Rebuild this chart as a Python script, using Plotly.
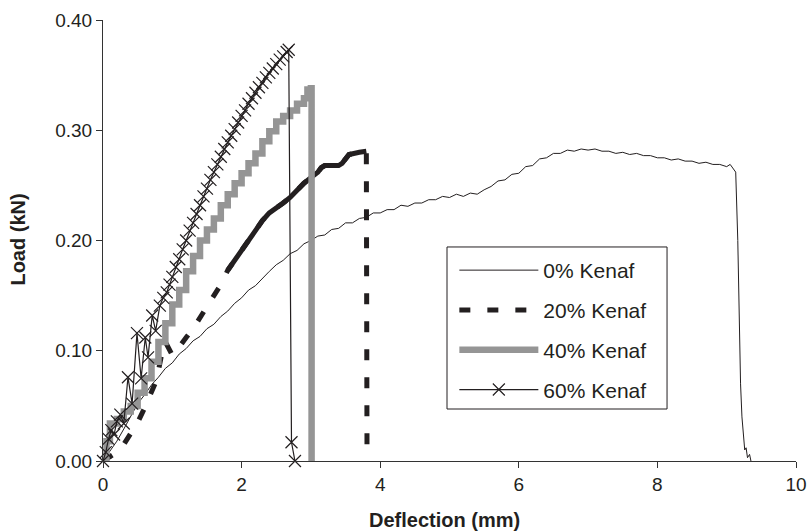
import plotly.graph_objects as go

# ---------------- data ----------------
k0_x = [0.0, 0.1, 0.2, 0.3, 0.4, 0.5, 0.6, 0.7, 0.8, 0.9,
        1.0, 1.1, 1.2, 1.3, 1.4, 1.5, 1.6, 1.7, 1.8, 1.9,
        2.0, 2.1, 2.2, 2.3, 2.4, 2.5, 2.6, 2.7, 2.8, 2.9,
        3.0, 3.1, 3.2, 3.3, 3.4, 3.5, 3.6, 3.7, 3.8, 3.9,
        4.0, 4.1, 4.2, 4.3, 4.4, 4.5, 4.6, 4.7, 4.8, 4.9,
        5.0, 5.1, 5.2, 5.3, 5.4, 5.5, 5.6, 5.7, 5.8, 5.9,
        6.0, 6.1, 6.2, 6.3, 6.4, 6.5, 6.6, 6.7, 6.8, 6.9,
        7.0, 7.1, 7.2, 7.3, 7.4, 7.5, 7.6, 7.7, 7.8, 7.9,
        8.0, 8.1, 8.2, 8.3, 8.4, 8.5, 8.6, 8.7, 8.8, 8.9,
        9.0, 9.05, 9.1, 9.13, 9.16, 9.18, 9.2, 9.22, 9.24, 9.26,
        9.28, 9.3, 9.33, 9.35]
k0_y = [0.000, 0.009, 0.018, 0.029, 0.040, 0.052, 0.060, 0.069, 0.076, 0.084,
        0.089, 0.097, 0.102, 0.109, 0.113, 0.120, 0.124, 0.131, 0.136, 0.143,
        0.148, 0.155, 0.159, 0.166, 0.172, 0.178, 0.182, 0.188, 0.191, 0.197,
        0.200, 0.204, 0.205, 0.210, 0.211, 0.216, 0.216, 0.220, 0.221, 0.225,
        0.225, 0.228, 0.228, 0.232, 0.231, 0.234, 0.234, 0.237, 0.237, 0.240,
        0.239, 0.242, 0.240, 0.243, 0.242, 0.246, 0.249, 0.254, 0.255, 0.260,
        0.261, 0.267, 0.268, 0.274, 0.275, 0.279, 0.279, 0.282, 0.281, 0.283,
        0.282, 0.283, 0.281, 0.281, 0.279, 0.280, 0.278, 0.279, 0.277, 0.277,
        0.275, 0.275, 0.273, 0.274, 0.272, 0.272, 0.270, 0.271, 0.269, 0.269,
        0.267, 0.269, 0.265, 0.262, 0.200, 0.120, 0.070, 0.040, 0.022, 0.010,
        0.012, 0.003, 0.006, 0.000]

k20_x = [0.0, 0.1, 0.2, 0.3, 0.4, 0.5, 0.6, 0.7, 0.75, 0.8,
         0.85, 0.9, 0.95, 1.0, 1.05, 1.1, 1.2, 1.3, 1.4, 1.5,
         1.6, 1.7, 1.8, 1.9, 2.0, 2.1, 2.2, 2.3, 2.4, 2.5,
         2.6, 2.7, 2.8, 2.9, 3.0, 3.1, 3.15, 3.2, 3.3, 3.4,
         3.45, 3.5, 3.55, 3.7, 3.8, 3.81]
k20_y = [0.000, 0.004, 0.008, 0.015, 0.025, 0.035, 0.048, 0.062, 0.070, 0.082,
         0.098, 0.108, 0.101, 0.096, 0.099, 0.104, 0.112, 0.120, 0.130, 0.139,
         0.150, 0.160, 0.173, 0.182, 0.192, 0.200, 0.209, 0.218, 0.225, 0.229,
         0.234, 0.239, 0.246, 0.252, 0.257, 0.262, 0.266, 0.268, 0.268, 0.268,
         0.270, 0.274, 0.278, 0.280, 0.281, 0.000]

k40_x = [0.0, 0.05, 0.1, 0.2, 0.3, 0.4, 0.5, 0.6, 0.7, 0.8,
         0.9, 1.0, 1.1, 1.2, 1.3, 1.4, 1.5, 1.6, 1.7, 1.8,
         1.9, 2.0, 2.1, 2.2, 2.3, 2.4, 2.5, 2.6, 2.7, 2.8,
         2.9, 2.95, 3.0, 3.01]
k40_y = [0.000, 0.018, 0.034, 0.038, 0.045, 0.050, 0.062, 0.075, 0.090, 0.108,
         0.125, 0.142, 0.155, 0.172, 0.186, 0.200, 0.210, 0.220, 0.232, 0.242,
         0.252, 0.261, 0.270, 0.279, 0.290, 0.299, 0.308, 0.313, 0.318, 0.324,
         0.329, 0.337, 0.338, 0.000]

k60_x = [0.0, 0.04, 0.08, 0.12, 0.16, 0.2, 0.25, 0.3, 0.36, 0.42,
         0.49, 0.55, 0.61, 0.65, 0.71, 0.76, 0.82, 0.87, 0.92, 0.96,
         1.0, 1.05, 1.1, 1.15, 1.2, 1.25, 1.3, 1.35, 1.4, 1.45,
         1.5, 1.55, 1.6, 1.65, 1.7, 1.75, 1.8, 1.85, 1.9, 1.95,
         2.0, 2.05, 2.1, 2.15, 2.2, 2.25, 2.3, 2.35, 2.4, 2.45,
         2.5, 2.55, 2.6, 2.65, 2.68, 2.72, 2.77]
k60_y = [0.000, 0.008, 0.020, 0.028, 0.024, 0.036, 0.042, 0.034, 0.076, 0.052,
         0.116, 0.075, 0.112, 0.094, 0.132, 0.118, 0.141, 0.148, 0.153, 0.160,
         0.167, 0.176, 0.183, 0.192, 0.200, 0.209, 0.216, 0.224, 0.232, 0.240,
         0.247, 0.255, 0.262, 0.269, 0.276, 0.283, 0.289, 0.295, 0.301, 0.307,
         0.313, 0.318, 0.324, 0.329, 0.334, 0.339, 0.343, 0.348, 0.352, 0.356,
         0.360, 0.364, 0.367, 0.371, 0.373, 0.017, 0.000]

series_names = ["0% Kenaf", "20% Kenaf", "40% Kenaf", "60% Kenaf"]
x_ticks = [0, 2, 4, 6, 8, 10]
y_ticks = [0.0, 0.1, 0.2, 0.3, 0.4]

# ---------------- figure ----------------
INK = "#231f20"
GRAY = "#959595"
FONT = "Liberation Sans, Arial, sans-serif"

fig = go.Figure()

fig.add_trace(go.Scatter(
    x=k0_x, y=k0_y, mode="lines", name=series_names[0], legendgroup="a",
    line=dict(color=INK, width=1)))

fig.add_trace(go.Scatter(
    x=k20_x, y=k20_y, mode="lines", name=series_names[1], legendgroup="b",
    line=dict(color=INK, width=5, dash="11px,17px")))

# upper part of the 20% curve is drawn as a nearly continuous band in the reference
i0 = k20_x.index(1.8)
fig.add_trace(go.Scatter(
    x=k20_x[i0:-1], y=k20_y[i0:-1], mode="lines", showlegend=False, legendgroup="b",
    line=dict(color=INK, width=5), hoverinfo="skip"))

fig.add_trace(go.Scatter(
    x=k40_x, y=k40_y, mode="lines", name=series_names[2], legendgroup="c",
    line=dict(color=GRAY, width=6.5, shape="hv")))

fig.add_trace(go.Scatter(
    x=k60_x, y=k60_y, mode="lines+markers", name=series_names[3], legendgroup="d",
    line=dict(color=INK, width=1.2),
    marker=dict(symbol="x-thin", size=12, line=dict(color=INK, width=1.2)),
    cliponaxis=False))

fig.update_layout(
    width=809, height=532,
    margin=dict(l=103, r=13, t=20, b=71, autoexpand=False),
    paper_bgcolor="white", plot_bgcolor="white",
    font=dict(family=FONT, color=INK, size=19),
    showlegend=True,
    legend=dict(
        x=0.507, y=0.4785, xanchor="left", yanchor="top",
        borderwidth=0, bgcolor="rgba(0,0,0,0)",
        font=dict(size=21, family=FONT, color=INK),
        itemwidth=79, tracegroupgap=9.5,
    ),
    shapes=[
        dict(type="rect", xref="paper", yref="paper",
             x0=0.4964, x1=0.8139, y0=0.1179, y1=0.4853,
             line=dict(color=INK, width=1), fillcolor="white", layer="below"),
    ],
    xaxis=dict(
        range=[0, 10], tickvals=x_ticks, ticktext=[str(v) for v in x_ticks],
        showline=True, linecolor="#333333", linewidth=1,
        ticks="outside", ticklen=6, tickcolor="#333333",
        showgrid=False, zeroline=False, automargin=False,
        tickfont=dict(size=19, family=FONT, color=INK),
    ),
    yaxis=dict(
        range=[0, 0.4], tickvals=y_ticks, ticktext=["%.2f" % v for v in y_ticks],
        showline=True, linecolor="#333333", linewidth=1,
        ticks="outside", ticklen=6, tickcolor="#333333",
        showgrid=False, zeroline=False, automargin=False,
        tickfont=dict(size=19, family=FONT, color=INK),
    ),
    annotations=[
        dict(text="<b>Deflection (mm)</b>", xref="paper", yref="paper",
             x=0.493, y=-0.134, xanchor="center", yanchor="middle",
             showarrow=False, font=dict(size=20, family=FONT, color=INK)),
        dict(text="<b>Load (kN)</b>", xref="paper", yref="paper",
             x=-0.1227, y=0.502, xanchor="center", yanchor="middle",
             textangle=-90, showarrow=False,
             font=dict(size=20, family=FONT, color=INK)),
    ],
)

fig.write_html("out.html")
